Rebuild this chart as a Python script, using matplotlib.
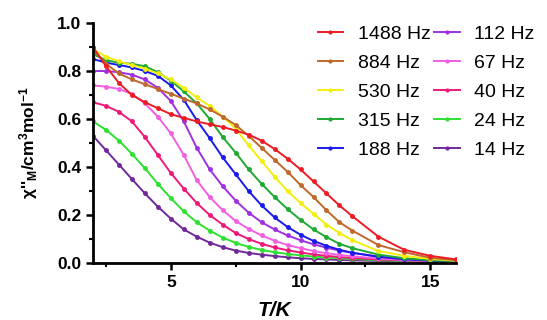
# -*- coding: utf-8 -*-
import numpy as np
from matplotlib import pyplot as plt
from matplotlib.ticker import MultipleLocator

plt.rcParams['font.family'] = ['Liberation Sans', 'DejaVu Sans']
plt.rcParams['mathtext.fontset'] = 'custom'
plt.rcParams['mathtext.rm'] = 'Liberation Sans:bold'
plt.rcParams['mathtext.bf'] = 'Liberation Sans:bold'
plt.rcParams['mathtext.it'] = 'Liberation Sans:bold:italic'
plt.rcParams['mathtext.default'] = 'bf'

# temperatures (K)
T = [2, 2.5, 3, 3.5, 4, 4.5, 5, 5.5, 6, 6.5, 7, 7.5, 8, 8.5, 9, 9.5, 10,
     10.5, 11, 11.5, 12, 13, 14, 15, 16]

labels = ['1488 Hz', '884 Hz', '530 Hz', '315 Hz', '188 Hz',
          '112 Hz', '67 Hz', '40 Hz', '24 Hz', '14 Hz']
colors = ['#ec1c24', '#c0682a', '#f2ee10', '#20a832', '#1a1aee',
          '#a030e0', '#f060e0', '#ee1a78', '#2ee030', '#70289a']

chi_1488 = [0.90, 0.82, 0.75, 0.70, 0.67, 0.645, 0.62, 0.605, 0.59, 0.578, 0.567, 0.552, 0.535,
            0.51, 0.475, 0.435, 0.39, 0.34, 0.29, 0.24, 0.195, 0.11, 0.055, 0.03, 0.015]
chi_884 = [0.89, 0.83, 0.79, 0.765, 0.745, 0.725, 0.705, 0.685, 0.665, 0.64, 0.61, 0.575, 0.53,
           0.48, 0.43, 0.38, 0.325, 0.275, 0.22, 0.17, 0.135, 0.075, 0.045, 0.022, 0.012]
chi_530 = [0.89, 0.86, 0.84, 0.825, 0.81, 0.79, 0.765, 0.73, 0.69, 0.655, 0.61, 0.56, 0.49,
           0.425, 0.36, 0.30, 0.25, 0.205, 0.16, 0.125, 0.095, 0.05, 0.03, 0.017, 0.01]
chi_315 = [0.87, 0.845, 0.835, 0.83, 0.82, 0.795, 0.76, 0.715, 0.665, 0.60, 0.525, 0.46, 0.39,
           0.33, 0.275, 0.225, 0.18, 0.14, 0.108, 0.08, 0.062, 0.035, 0.02, 0.012, 0.008]
chi_188 = [0.85, 0.835, 0.825, 0.815, 0.80, 0.78, 0.74, 0.68, 0.595, 0.52, 0.44, 0.37, 0.30,
           0.24, 0.19, 0.15, 0.118, 0.092, 0.072, 0.055, 0.043, 0.026, 0.016, 0.01, 0.007]
chi_112 = [0.80, 0.80, 0.795, 0.785, 0.765, 0.73, 0.675, 0.59, 0.48, 0.39, 0.32, 0.26, 0.21,
           0.17, 0.14, 0.115, 0.095, 0.078, 0.064, 0.052, 0.042, 0.027, 0.017, 0.011, 0.008]
chi_67 = [0.74, 0.735, 0.725, 0.705, 0.665, 0.61, 0.54, 0.45, 0.345, 0.275, 0.22, 0.175, 0.142,
          0.115, 0.093, 0.075, 0.062, 0.05, 0.041, 0.034, 0.028, 0.019, 0.013, 0.009, 0.006]
chi_40 = [0.67, 0.655, 0.63, 0.59, 0.525, 0.45, 0.375, 0.31, 0.25, 0.20, 0.16, 0.125, 0.10,
          0.08, 0.065, 0.053, 0.044, 0.036, 0.03, 0.025, 0.021, 0.015, 0.011, 0.008, 0.006]
chi_24 = [0.59, 0.555, 0.51, 0.455, 0.395, 0.33, 0.27, 0.215, 0.17, 0.135, 0.106, 0.084, 0.067,
          0.055, 0.045, 0.038, 0.032, 0.027, 0.023, 0.02, 0.017, 0.012, 0.009, 0.007, 0.005]
chi_14 = [0.53, 0.47, 0.41, 0.35, 0.29, 0.235, 0.185, 0.14, 0.11, 0.085, 0.066, 0.052, 0.042,
          0.035, 0.029, 0.024, 0.02, 0.017, 0.015, 0.013, 0.011, 0.009, 0.007, 0.006, 0.005]

series = [chi_1488, chi_884, chi_530, chi_315, chi_188,
          chi_112, chi_67, chi_40, chi_24, chi_14]

fig = plt.figure(figsize=(5.47, 3.2), dpi=100)
ax = fig.add_axes([0.170, 0.178, 0.664, 0.750])

# draw lowest frequency first so the red curve ends up on top
for y, c, lab in reversed(list(zip(series, colors, labels))):
    ax.plot(T, y, '-o', color=c, lw=1.4, ms=2.5, label=lab)

ax.set_xlim(2, 16)
ax.set_ylim(0, 1.0)
ax.xaxis.set_major_locator(MultipleLocator(5))
ax.xaxis.set_minor_locator(MultipleLocator(2.5))
ax.yaxis.set_major_locator(MultipleLocator(0.2))
ax.yaxis.set_minor_locator(MultipleLocator(0.1))
ax.yaxis.set_major_formatter(lambda v, p: f"{v:.1f}")

for s in ['top', 'right']:
    ax.spines[s].set_visible(False)
for s in ['left', 'bottom']:
    ax.spines[s].set_linewidth(2)
ax.tick_params(which='major', direction='out', length=5, width=1.8, labelsize=12.5)
ax.tick_params(which='minor', direction='out', length=3, width=1.5)
for lbl in ax.get_xticklabels() + ax.get_yticklabels():
    lbl.set_fontweight('bold')

ax.set_xlabel("T/K", fontsize=15, fontweight='bold', fontstyle='italic', labelpad=8)
ax.set_ylabel("$\\chi$''$_M$/cm$^3$mol$^{-1}$", fontsize=12.5, fontweight='bold', labelpad=12)

handles, labs = ax.get_legend_handles_labels()
handles, labs = handles[::-1], labs[::-1]
fig.legend(handles, labs, ncol=2, frameon=False, fontsize=14,
           loc='upper left', bbox_to_anchor=(0.581, 0.92), borderpad=0,
           borderaxespad=0, handlelength=1.3, handletextpad=0.75,
           columnspacing=0.2, labelspacing=0.58, markerscale=0.8)

fig.savefig('out.png', dpi=100)
